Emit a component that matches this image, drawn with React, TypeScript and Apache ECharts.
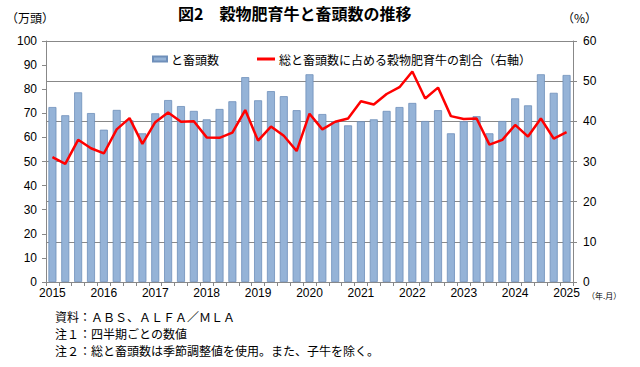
import React, { useEffect, useRef } from "react";
import * as echarts from "echarts";

const categories: string[] = [
  "2015", "2015", "2015", "2015",
  "2016", "2016", "2016", "2016",
  "2017", "2017", "2017", "2017",
  "2018", "2018", "2018", "2018",
  "2019", "2019", "2019", "2019",
  "2020", "2020", "2020", "2020",
  "2021", "2021", "2021", "2021",
  "2022", "2022", "2022", "2022",
  "2023", "2023", "2023", "2023",
  "2024", "2024", "2024", "2024",
  "2025",
];

const slaughter: number[] = [
  72.6, 69.2, 78.7, 70.1, 63.2, 71.4, 67.1, 61.7, 70.0, 75.5,
  73.0, 71.0, 67.5, 71.8, 75.0, 85.0, 75.4, 79.2, 77.1, 71.3,
  86.2, 69.7, 66.7, 65.0, 66.7, 67.5, 71.0, 72.6, 74.3, 66.8,
  71.3, 61.7, 66.7, 68.8, 61.7, 66.8, 76.2, 73.3, 86.2, 78.5,
  85.9,
];

const grainShare: number[] = [
  31.1, 29.4, 35.4, 33.3, 32.0, 38.0, 40.8, 34.4, 39.8, 42.2,
  39.9, 40.0, 36.0, 35.9, 37.2, 42.8, 35.2, 38.7, 36.4, 32.6,
  41.9, 38.0, 39.9, 40.7, 45.0, 44.2, 46.8, 48.5, 52.4, 45.7,
  48.4, 41.3, 40.6, 40.7, 34.2, 35.4, 39.1, 36.2, 40.7, 35.7,
  37.3,
];

const barName = "と畜頭数";
const lineName = "総と畜頭数に占める穀物肥育牛の割合（右軸）";
const titleText = "図2　穀物肥育牛と畜頭数の推移";
const notes: string[] = [
  "資料：ＡＢＳ、ＡＬＦＡ／ＭＬＡ",
  "注１：四半期ごとの数値",
  "注２：総と畜頭数は季節調整値を使用。また、子牛を除く。",
];

const FONT = "'Noto Sans CJK JP', 'Noto Sans', sans-serif";
const NUMFONT = "'Liberation Sans', Arial, sans-serif";

export default function App() {
  const ref = useRef<HTMLDivElement>(null);
  useEffect(() => {
    if (!ref.current) return;
    document.body.style.margin = "0";
    const chart = echarts.init(ref.current, undefined, { renderer: "svg" });
    chart.setOption({
      animation: false,
      backgroundColor: "#ffffff",
      textStyle: { fontFamily: FONT },
      grid: { left: 46, right: 67, top: 41, bottom: 85 },
      legend: [
        {
          left: 147,
          top: 48,
          itemWidth: 14,
          itemHeight: 5,
          itemGap: 0,
          data: [{ name: barName, icon: "rect" }],
          textStyle: { fontSize: 12, color: "#000", fontFamily: FONT, padding: [0, 0, 0, -1] },
        },
        {
          left: 252,
          top: 48,
          itemWidth: 18,
          itemHeight: 3,
          data: [{ name: lineName, icon: "rect" }],
          textStyle: { fontSize: 12, color: "#000", fontFamily: FONT, padding: [0, 0, 0, -1] },
        },
      ],
      xAxis: {
        type: "category",
        data: categories,
        boundaryGap: true,
        axisLine: { lineStyle: { color: "#888", width: 1 } },
        axisTick: { show: true, interval: 0, length: 4, lineStyle: { color: "#888" } },
        axisLabel: {
          interval: 3,
          color: "#000",
          fontSize: 12,
          fontFamily: NUMFONT,
          margin: 5,
        },
        splitLine: { show: false },
      },
      yAxis: [
        {
          type: "value",
          min: 0,
          max: 100,
          interval: 10,
          axisLine: { show: true, lineStyle: { color: "#888" } },
          axisTick: { show: true, length: 4, lineStyle: { color: "#888" } },
          axisLabel: { color: "#000", fontSize: 12, margin: 9, fontFamily: NUMFONT },
          splitLine: { show: false },
        },
        {
          type: "value",
          min: 0,
          max: 60,
          interval: 10,
          position: "right",
          axisLine: { show: true, lineStyle: { color: "#888" } },
          axisTick: { show: true, length: 4, lineStyle: { color: "#888" } },
          axisLabel: { color: "#000", fontSize: 12, margin: 10, fontFamily: NUMFONT },
          splitLine: { show: true, lineStyle: { color: "#888", width: 1 } },
        },
      ],
      series: [
        {
          name: barName,
          type: "bar",
          yAxisIndex: 0,
          data: slaughter,
          barWidth: 8,
          itemStyle: { color: "#95B3D7", borderColor: "#6F8FBA", borderWidth: 0.8 },
        },
        {
          name: lineName,
          type: "line",
          yAxisIndex: 1,
          data: grainShare,
          symbol: "none",
          itemStyle: { color: "#FF0000" },
          lineStyle: { color: "#FF0000", width: 2.5 },
        },
      ],
      graphic: [
        {
          type: "text",
          left: 178,
          top: 5,
          style: { text: titleText, font: `bold 16px ${FONT}`, fill: "#000" },
        },
        {
          type: "text",
          left: 6,
          top: 11,
          style: { text: "（万頭）", font: `12px ${FONT}`, fill: "#000" },
        },
        {
          type: "text",
          left: 562,
          top: 11,
          style: { text: "（%）", font: `12px ${FONT}`, fill: "#000" },
        },
        {
          type: "text",
          left: 587,
          top: 291,
          style: { text: "（年.月）", font: `8px ${FONT}`, fill: "#000" },
        },
        ...notes.map((t, i) => ({
          type: "text",
          left: 55,
          top: 310 + i * 17,
          style: { text: t, font: `12px ${FONT}`, fill: "#000" },
        })),
      ],
    });
    return () => chart.dispose();
  }, []);
  return <div ref={ref} style={{ width: 640, height: 367 }} />;
}
